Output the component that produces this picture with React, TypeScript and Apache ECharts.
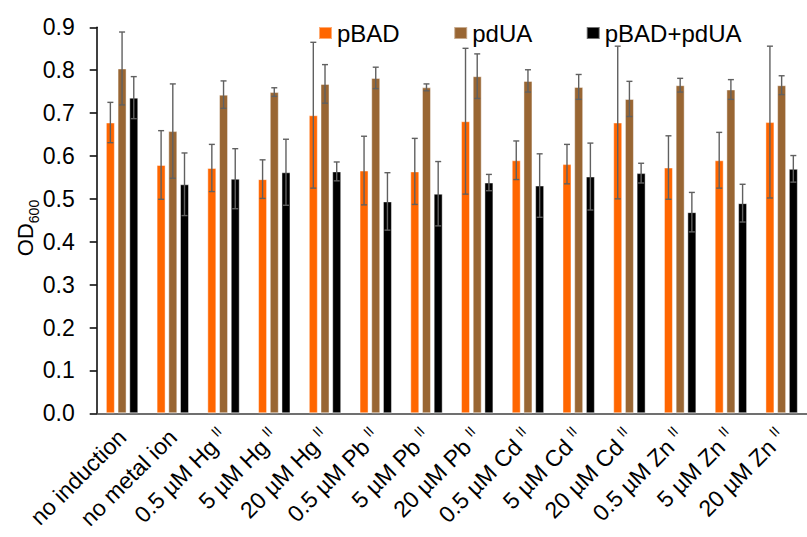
import React, { useEffect, useRef } from "react";
import * as echarts from "echarts";

const categories = [
  "no induction",
  "no metal ion",
  "0.5 µM Hg",
  "5 µM Hg",
  "20 µM Hg",
  "0.5 µM Pb",
  "5 µM Pb",
  "20 µM Pb",
  "0.5 µM Cd",
  "5 µM Cd",
  "20 µM Cd",
  "0.5 µM Zn",
  "5 µM Zn",
  "20 µM Zn",
];
const oxidationStates = ["", "", "II", "II", "II", "II", "II", "II", "II", "II", "II", "II", "II", "II"];

const seriesNames = ["pBAD", "pdUA", "pBAD+pdUA"];

const pBAD = [0.678, 0.579, 0.572, 0.546, 0.695, 0.566, 0.564, 0.681, 0.59, 0.581, 0.678, 0.573, 0.59, 0.679];
const pBADErr = [0.047, 0.08, 0.055, 0.045, 0.17, 0.08, 0.077, 0.17, 0.045, 0.046, 0.178, 0.074, 0.065, 0.177];

const pdUA = [0.804, 0.658, 0.743, 0.749, 0.768, 0.782, 0.76, 0.786, 0.775, 0.761, 0.733, 0.765, 0.755, 0.765];
const pdUAErr = [0.085, 0.11, 0.032, 0.01, 0.045, 0.025, 0.008, 0.052, 0.026, 0.029, 0.041, 0.016, 0.023, 0.022];

const pBADpdUA = [0.736, 0.534, 0.547, 0.562, 0.564, 0.494, 0.512, 0.538, 0.531, 0.552, 0.56, 0.469, 0.49, 0.57];
const pBADpdUAErr = [0.049, 0.073, 0.07, 0.077, 0.022, 0.067, 0.075, 0.019, 0.074, 0.078, 0.023, 0.046, 0.044, 0.031];

const yMin = 0;
const yMax = 0.9;
const yInterval = 0.1;

const colors = ["#FF6600", "#996633", "#000000"];
const FONT = "'Liberation Sans', Arial, sans-serif";
const BAR_W = 9;
const BAR_GAP = 2.7;

export default function App() {
  const ref = useRef<HTMLDivElement>(null);

  useEffect(() => {
    document.body.style.margin = "0";
    if (!ref.current) return;
    const chart = echarts.init(ref.current, null, { renderer: "svg" });

    const values = [pBAD, pdUA, pBADpdUA];
    const errs = [pBADErr, pdUAErr, pBADpdUAErr];

    const barSeries = seriesNames.map((name, k) => ({
      type: "bar",
      name,
      data: values[k],
      barWidth: BAR_W,
      barGap: `${(BAR_GAP / BAR_W) * 100}%`,
      itemStyle: {
        color: colors[k],
        borderColor: "rgba(255,255,255,0.45)",
        borderWidth: 1,
      },
      z: 2,
    }));

    const errSeries = seriesNames.map((name, k) => {
      const offset = (k - 1) * (BAR_W + BAR_GAP);
      return {
        type: "custom",
        name: name + " error",
        z: 5,
        silent: true,
        data: values[k].map((v, i) => [i, v, errs[k][i]]),
        encode: { x: 0, y: 1 },
        renderItem: (params: any, api: any) => {
          const i = api.value(0);
          const v = api.value(1);
          const e = api.value(2);
          const top = api.coord([i, v + e]);
          const bot = api.coord([i, v - e]);
          const x = top[0] + offset;
          const hw = 3;
          const style = { stroke: "#606060", lineWidth: 1.4 };
          return {
            type: "group",
            children: [
              { type: "line", shape: { x1: x, y1: top[1], x2: x, y2: bot[1] }, style },
              { type: "line", shape: { x1: x - hw, y1: top[1], x2: x + hw, y2: top[1] }, style },
              { type: "line", shape: { x1: x - hw, y1: bot[1], x2: x + hw, y2: bot[1] }, style },
            ],
          };
        },
      };
    });

    const option: any = {
      animation: false,
      backgroundColor: "#ffffff",
      textStyle: { fontFamily: FONT },
      grid: { left: 96.7, top: 27.3, bottom: 123.7, right: -5.8, containLabel: false },
      legend: {
        data: seriesNames,
        left: 313,
        top: 16,
        itemWidth: 13,
        itemHeight: 12,
        itemGap: 53.5,
        icon: "rect",
        textStyle: { fontSize: 24, color: "#000", fontFamily: FONT },
      },
      xAxis: {
        type: "category",
        data: categories,
        axisLine: { show: true, lineStyle: { color: "#404040", width: 1.5 } },
        axisTick: { show: false },
        axisLabel: {
          rotate: 45,
          interval: 0,
          margin: 20,
          fontSize: 23,
          color: "#000",
          fontFamily: FONT,
          lineHeight: 27,
          formatter: (val: string, idx: number) => {
            const s = oxidationStates[idx];
            return s ? `${val} {s|${s}}` : val;
          },
          rich: {
            s: { fontSize: 14, verticalAlign: "top", lineHeight: 14, color: "#000", fontFamily: FONT },
          },
        },
      },
      yAxis: {
        type: "value",
        min: yMin,
        max: yMax,
        interval: yInterval,
        splitLine: { show: false },
        axisLine: { show: true, lineStyle: { color: "#000", width: 1.5 } },
        axisTick: { show: true, inside: false, length: 7, lineStyle: { color: "#000", width: 1.5 } },
        axisLabel: {
          margin: 22,
          fontSize: 23,
          color: "#000",
          fontFamily: FONT,
          formatter: (v: number) => v.toFixed(1),
        },
      },
      graphic: [
        {
          type: "text",
          x: 25.5,
          y: 228,
          rotation: Math.PI / 2,
          style: {
            text: "{a|OD}{b|600}",
            align: "center",
            verticalAlign: "middle",
            rich: {
              a: { fontSize: 22, lineHeight: 22, verticalAlign: "top", fontFamily: FONT, fill: "#000" },
              b: { fontSize: 14, lineHeight: 14, padding: [17, 0, 0, 0], fontFamily: FONT, fill: "#000" },
            },
          },
        },
      ],
      series: [...barSeries, ...errSeries],
    };

    chart.setOption(option);
    return () => chart.dispose();
  }, []);

  return <div ref={ref} style={{ width: 807, height: 537 }} />;
}
